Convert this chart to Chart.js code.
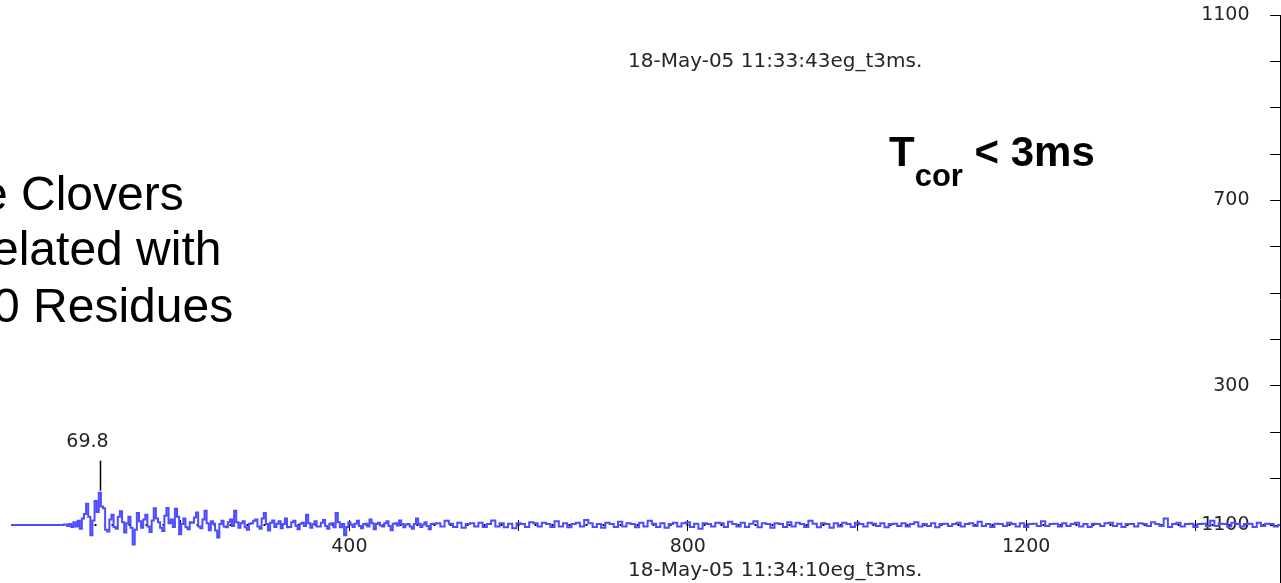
<!DOCTYPE html>
<html>
<head>
<meta charset="utf-8">
<title>eg_t3ms correlation trace</title>
<script src="https://cdn.jsdelivr.net/npm/chart.js@4.4.1/dist/chart.umd.min.js"></script>
<style>
  html, body { margin: 0; padding: 0; background: #ffffff; overflow: hidden; }
  #wrap { position: relative; width: 1281px; height: 583px; }
  canvas { display: block; }
</style>
</head>
<body>
<div id="wrap"><canvas id="trace" width="1281" height="583"></canvas></div>
<script>
// Quiet lead-in: lags 0 .. 60, every 5
const quietStart = 0;
const quietStep = 5;
const corrQuiet = [0, 0, 0, 0, 0, 0, 0, 0, 0, 0, 0, 0, 0];

// Burst: lags 65 .. 500, every 2.5
const burstStart = 65;
const burstStep = 2.5;
const corrBurst = [
  1, -2, 2, -4, 6, -3, 9, -8, 14, 24,          // 65
  46, 18, -22, 10, 52, 28, 69.8, 40, 36, -10,  // 90
  -14, 12, 22, -4, -8, 18, 30, 6, -16, 4,      // 115
  18, -6, -42, -10, 26, 8, -6, 12, 22, -3,     // 140
  -15, 10, 36, 14, 6, -6, -13, 20, 37, 4,      // 165
  12, -4, 35, 18, -20, 2, 14, -5, -9, 6,       // 190
  5, 16, 27, -3, -7, 12, 31, 4, -11, 8,        // 215
  3, -12, -27, 2, 9, -3, -5, 6, 12, -2,        // 240
  31, 6, -6, 4, 8, -5, -10, 3, 4, 9,           // 265
  12, -3, -8, 14, 26, 2, -12, 5, 10, -4,       // 290
  3, 8, -7, 2, 14, -5, -4, 6, 9, -2,           // 315
  -9, 3, 5, -2, 22, 4, -6, 2, 8, -3,           // 340
  -3, 5, 11, -2, -8, 3, 4, -5, 26, 6,          // 365
  -5, 2, -22, -4, 6, 1, -4, 3, 9, -2,          // 390
  -7, 2, 3, -3, 12, 4, -9, 2, 5, -1,           // 415
  -3, 4, 8, -2, -11, 3, 4, -1, 10, 2,          // 440
  -5, 1, 2, -3, -8, 2, 14, 3, -4, 1,           // 465
  6, -2, -9, 2, 3                              // 490
];

// Tail: lags 505 .. 1500, every 5
const tailStart = 505;
const tailStep = 5;
const corrTailA = [
  4, -3, 9, 3, -4, 5, -6, 2, 4, -3,
  5, -4, 2, 10, -3, 4, -5, 3, -7, 4,
  2, -4, 6, 4, -3, 5, 2, -4, 8, -3,
  4, -5, 2, 5, -3, 11, 4, -4, 2, -6,
  5, 2, -4, 7, -3, 4, 2, -5, 5, -3,
  9, 3, -4, 4, -6, 2, 5, -3, 4, 6,
  -4, 3, -8, 4, 2, -3, 5, 4, -4, 7,
  2, -3, 5, -4, 3, 8, -5, 4, 2, -6,
  4, 2, -4, 6, -3, 5, 2, -4, 9, 3,
  -5, 4, 2, -6, 4, -3, 5, 2, -4, 5
];
const corrTailB = [
  2, -3, 5, 3, -2, 4, -5, 2, 3, -2,
  4, -3, 2, 6, -3, 2, -2, 4, -5, 2,
  3, -2, 2, 5, -3, 2, 4, -2, 7, -2,
  2, -4, 3, 2, -2, 5, 2, -3, 4, -4,
  2, 3, -2, 8, -2, 2, 3, -3, 4, -2,
  2, 5, -3, 2, -4, 3, 2, -2, 4, 5,
  -2, 3, -4, 2, 2, -3, 4, 2, -2, 6,
  2, -2, 14, -4, 2, 5, -3, 2, 3, -4,
  2, 3, -2, 9, -2, 3, 2, -3, 5, 2,
  -3, 2, 3, -4, 5, -2, 3, 2, -3, 0
];

// Axis tick values that carry a label
const lagLabelTicks = [400, 800, 1200];
const upperLabelTicks = [300, 700, 1100];
const lowerLabelTicks = [1100];

// Captions and slide text
const topCaption = '18-May-05 11:33:43eg_t3ms.';
const bottomCaption = '18-May-05 11:34:10eg_t3ms.';
const slideLines = ['e Clovers', 'elated with', '0 Residues'];

const toPoints = (start, step, values) => values.map((v, i) => ({ x: start + i * step, y: v }));
const tracePoints = [].concat(
  toPoints(quietStart, quietStep, corrQuiet),
  toPoints(burstStart, burstStep, corrBurst),
  toPoints(tailStart, tailStep, corrTailA.concat(corrTailB))
);

// The strongest sample gets a marker with its value written above it
const peakPoint = tracePoints.reduce((best, p) => (p.y > best.y ? p : best), tracePoints[0]);

// Where the value axes sit along the lag axis: the ruler at the right edge,
// and the column its numbers are right-aligned to
const rulerLag = 1500;
const numberColumnLag = 1464;

const axisFont = { family: '"DejaVu Sans", sans-serif', size: 19 };
const axisInk = '#262626';

// Object-positioned axes should not reserve extra room around the plot
const noPadding = s => { s.paddingLeft = 0; s.paddingRight = 0; s.paddingTop = 0; s.paddingBottom = 0; };

const annotations = {
  id: 'annotations',
  afterDraw(chart) {
    const { ctx } = chart;
    const xs = chart.scales.x;
    const ys = chart.scales.y;
    ctx.save();

    // plot captions
    ctx.fillStyle = axisInk;
    ctx.font = '20px "DejaVu Sans", sans-serif';
    ctx.textAlign = 'left';
    ctx.textBaseline = 'alphabetic';
    ctx.fillText(topCaption, 628, 67);
    ctx.fillText(bottomCaption, 628, 576);

    // peak marker
    const px = Math.round(xs.getPixelForValue(peakPoint.x)) + 0.5;
    const pyBottom = ys.getPixelForValue(peakPoint.y) - 2;
    const pyTop = pyBottom - 30;
    ctx.strokeStyle = '#000';
    ctx.lineWidth = 1.5;
    ctx.beginPath();
    ctx.moveTo(px, pyBottom);
    ctx.lineTo(px, pyTop);
    ctx.stroke();
    ctx.font = '19px "DejaVu Sans", sans-serif';
    ctx.textAlign = 'center';
    ctx.fillText(peakPoint.y.toFixed(1), px - 13, pyTop - 14);

    // slide text on the left
    ctx.fillStyle = '#000';
    ctx.textAlign = 'left';
    ctx.font = '48px "Liberation Sans", Arial, sans-serif';
    ctx.fillText(slideLines[0], -19, 210);
    ctx.fillText(slideLines[1], -8, 265);
    ctx.fillText(slideLines[2], -7, 322);

    // correlation time note
    let tx = 889;
    ctx.font = 'bold 42px "Liberation Sans", Arial, sans-serif';
    ctx.fillText('T', tx, 166);
    tx += ctx.measureText('T').width;
    ctx.font = 'bold 31px "Liberation Sans", Arial, sans-serif';
    ctx.fillText('cor', tx, 186);
    tx += ctx.measureText('cor').width;
    ctx.font = 'bold 42px "Liberation Sans", Arial, sans-serif';
    ctx.fillText(' < 3ms', tx, 166);

    ctx.restore();
  }
};

const lagAxisBase = {
  type: 'linear',
  min: 0,
  max: 1500,
  afterFit: noPadding,
  border: { display: false },
  grid: { drawOnChartArea: false, drawTicks: true, tickColor: '#000', tickWidth: 1 }
};

// Ruler (line + tick marks) for a value axis
const ruler = (min, max, keep, showLine) => ({
  type: 'linear',
  position: { x: rulerLag },
  min, max,
  afterFit: noPadding,
  afterBuildTicks: s => { s.ticks = s.ticks.filter(t => keep(t.value)); },
  border: { display: showLine, color: '#000', width: 1 },
  grid: { drawOnChartArea: false, drawTicks: true, tickLength: 10, tickColor: '#000', tickWidth: 1 },
  ticks: { stepSize: 100, display: false, autoSkip: false }
});

// Numbers for a value axis
const numbers = (min, max, labelled) => ({
  type: 'linear',
  position: { x: numberColumnLag },
  min, max,
  afterFit: noPadding,
  afterBuildTicks: s => { s.ticks = s.ticks.filter(t => labelled.includes(t.value)); },
  border: { display: false },
  grid: { display: false },
  ticks: { stepSize: 100, padding: 0, color: axisInk, font: axisFont, autoSkip: false,
           callback: v => String(v) }
});

new Chart(document.getElementById('trace'), {
  type: 'line',
  data: {
    datasets: [{
      data: tracePoints,
      borderColor: '#4d4dff',
      borderWidth: 2,
      pointRadius: 0,
      stepped: 'middle',
      xAxisID: 'x',
      yAxisID: 'y'
    }]
  },
  options: {
    responsive: false,
    animation: false,
    devicePixelRatio: 1,
    events: [],
    layout: { padding: { left: 11, right: 1, top: 15, bottom: 0 } },
    plugins: { legend: { display: false }, tooltip: { enabled: false }, title: { display: false } },
    scales: {
      x: Object.assign({}, lagAxisBase, {
        position: { y: 11 },
        afterBuildTicks: s => { s.ticks = s.ticks.filter(t => t.value > 0 && t.value % 200 === 0); },
        grid: Object.assign({}, lagAxisBase.grid, { tickLength: 11 }),
        ticks: {
          stepSize: 200, padding: 5, color: axisInk, font: axisFont, maxRotation: 0, autoSkip: false,
          callback: v => lagLabelTicks.includes(v) ? String(v) : ''
        }
      }),
      xMinor: Object.assign({}, lagAxisBase, {
        position: { y: 2 },
        afterBuildTicks: s => { s.ticks = s.ticks.filter(t => t.value > 0 && t.value % 20 === 0 && t.value < 1500); },
        grid: Object.assign({}, lagAxisBase.grid, { tickLength: 2, tickWidth: 2 }),
        ticks: { stepSize: 20, display: false, autoSkip: false }
      }),
      // upper panel: 0 .. 1100
      y: ruler(-125, 1100, v => v >= 0, true),
      yNumbers: numbers(-125, 1100, upperLabelTicks),
      // lower panel: its 1100 sits on the upper panel's zero line
      yLower: ruler(975, 2200, v => v >= 1000 && v <= 1100, false),
      yLowerNumbers: numbers(975, 2200, lowerLabelTicks)
    }
  },
  plugins: [annotations]
});
</script>
</body>
</html>
